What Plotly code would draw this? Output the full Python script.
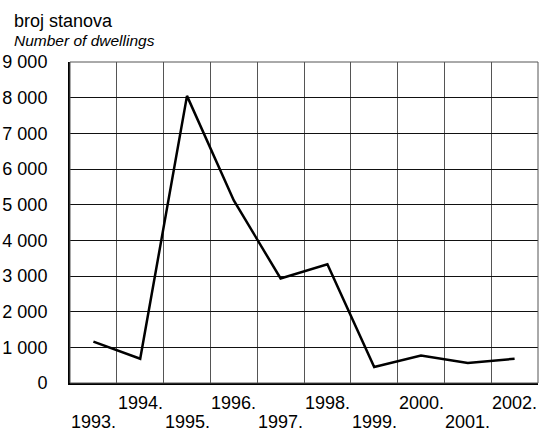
import plotly.graph_objects as go

years = ["1993.", "1994.", "1995.", "1996.", "1997.", "1998.", "1999.", "2000.", "2001.", "2002."]
dwellings = [1160, 680, 8050, 5120, 2930, 3330, 450, 770, 560, 680]
y_ticks = [0, 1000, 2000, 3000, 4000, 5000, 6000, 7000, 8000, 9000]
y_tick_labels = ["0", "1 000", "2 000", "3 000", "4 000", "5 000", "6 000", "7 000", "8 000", "9 000"]

FONT = "Liberation Sans, Arial, sans-serif"
PLOT_H = 321.0
PLOT_W = 468.0
xpos = [i + 0.5 for i in range(len(years))]

fig = go.Figure()
fig.add_trace(go.Scatter(x=xpos, y=dwellings, mode="lines",
                         line=dict(color="black", width=2.5), hoverinfo="skip"))

anns = []
for i, lab in enumerate(years):
    upper = (i % 2 == 1)
    top_px = 391 if upper else 410
    anns.append(dict(x=xpos[i], y=-(top_px - 383) / PLOT_H, xref="x", yref="paper",
                     text=lab, showarrow=False, xanchor="center", yanchor="top",
                     font=dict(family=FONT, size=18, color="black")))
anns.append(dict(x=-(70 - 12) / PLOT_W, y=1 + (62 - 21) / PLOT_H, xref="paper", yref="paper",
                 text="broj stanova", showarrow=False, xanchor="left", yanchor="middle",
                 font=dict(family=FONT, size=18, color="black")))
anns.append(dict(x=-(70 - 12) / PLOT_W, y=1 + (62 - 40) / PLOT_H, xref="paper", yref="paper",
                 text="<i>Number of dwellings</i>", showarrow=False, xanchor="left", yanchor="middle",
                 font=dict(family=FONT, size=15.5, color="black")))

fig.update_layout(
    width=548, height=439,
    margin=dict(l=70, r=10, t=62, b=56, autoexpand=False),
    paper_bgcolor="white", plot_bgcolor="white",
    showlegend=False,
    font=dict(family=FONT, size=18, color="black"),
    xaxis=dict(range=[0, 10], tickmode="linear", tick0=0, dtick=1, showticklabels=False,
               showgrid=True, gridcolor="#555555", gridwidth=1, zeroline=False,
               showline=True, linecolor="black", linewidth=2, automargin=False, fixedrange=True),
    yaxis=dict(range=[0, 9000], tickmode="array", tickvals=y_ticks, ticktext=y_tick_labels,
               showgrid=True, gridcolor="#111111", gridwidth=1, zeroline=False,
               showline=True, linecolor="black", linewidth=2, ticks="",
               ticklabelstandoff=17, automargin=False, fixedrange=True),
    shapes=[dict(type="rect", xref="paper", yref="paper", x0=0, x1=1, y0=0, y1=1,
                 line=dict(color="#555555", width=1))],
    annotations=anns,
)

fig.write_html("out.html", config={"displayModeBar": False},
               post_script="document.body.style.margin='0';document.body.style.overflow='hidden';")
